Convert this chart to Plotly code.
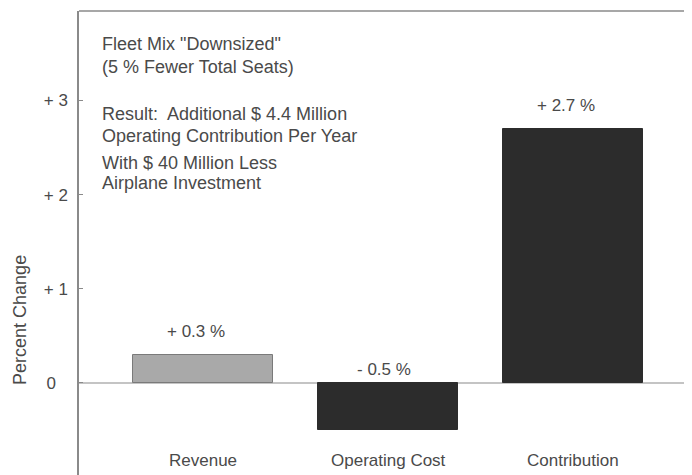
import plotly.graph_objects as go

categories = ["Revenue", "Operating Cost", "Contribution"]
pct_change = [0.3, -0.5, 2.7]
value_labels = ["+ 0.3 %", "- 0.5 %", "+ 2.7 %"]
tick_vals = [0, 1, 2, 3]
tick_text = ["0\u2002\u2009", "+ 1", "+ 2", "+ 3"]
note_lines = [
    'Fleet Mix "Downsized"',
    "(5 % Fewer Total Seats)",
    "Result:  Additional $ 4.4 Million",
    "Operating Contribution Per Year",
    "With $ 40 Million Less",
    "Airplane Investment",
]

font = "Liberation Sans, Arial, sans-serif"
ink = "#4a4a4a"
fs = 18
xpos = list(range(len(categories)))

fig = go.Figure(go.Bar(
    x=xpos, y=pct_change, width=0.757,
    marker=dict(color=["#a9a9a9", "#2c2c2c", "#2c2c2c"],
                line=dict(color=["#7a7a7a", "#2c2c2c", "#2c2c2c"], width=1)),
    hoverinfo="skip",
))

# value labels above / below bars
for x, v, lab in zip(xpos, pct_change, value_labels):
    if v > 0:
        fig.add_annotation(x=x - 0.04, y=v, yanchor="bottom", yshift=12, text=lab,
                           showarrow=False, font=dict(size=fs - 1, color=ink, family=font))
    else:
        fig.add_annotation(x=x - 0.02, y=0, yanchor="bottom", yshift=2, text=lab,
                           showarrow=False, font=dict(size=fs - 1, color=ink, family=font))

# category labels inside the plot, near the bottom
for x, c in zip(xpos, categories):
    fig.add_annotation(x=x, y=-0.82, text=c, showarrow=False,
                       font=dict(size=fs - 1, color=ink, family=font))

# explanatory note block
note_y = [0.929, 0.879, 0.778, 0.731, 0.672, 0.629]
for line, yy in zip(note_lines, note_y):
    fig.add_annotation(xref="paper", yref="paper", x=0.034, y=yy, text=line,
                       showarrow=False, xanchor="left", yanchor="middle",
                       font=dict(size=fs, color=ink, family=font))

fig.add_annotation(xref="paper", yref="paper", x=-0.097, y=0.334, xanchor="center",
                   yanchor="middle", text="Percent Change", textangle=-90,
                   showarrow=False, font=dict(size=fs, color=ink, family=font))

# frame: top and right edges, zero line
fig.add_shape(type="line", xref="paper", yref="paper", x0=0, x1=1, y0=1, y1=1,
              line=dict(color="#8a8a8a", width=1.5))
fig.add_shape(type="line", xref="paper", yref="paper", x0=1, x1=1, y0=0, y1=1,
              line=dict(color="#d8d8d8", width=1))
fig.add_shape(type="line", xref="paper", yref="y", x0=0, x1=1, y0=0, y1=0,
              line=dict(color="#8a8a8a", width=1.2), layer="below")

fig.update_layout(
    width=684, height=467,
    margin=dict(l=71, r=4, t=3, b=0),
    paper_bgcolor="white", plot_bgcolor="white",
    showlegend=False,
    bargap=0,
    xaxis=dict(range=[-0.67, 2.62], showticklabels=False, showgrid=False,
               zeroline=False, ticks=""),
    yaxis=dict(range=[-0.977, 3.95], tickvals=tick_vals, ticktext=tick_text,
               ticks="inside", ticklen=4, tickcolor="#8a8a8a",
               showline=True, linecolor="#8a8a8a", linewidth=1.5,
               showgrid=False, zeroline=False, ticklabelstandoff=6,
               tickfont=dict(size=fs - 1, color=ink, family=font)),
)

fig.write_html("out.html")
